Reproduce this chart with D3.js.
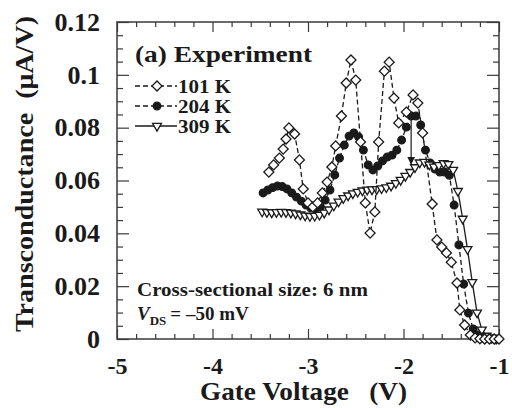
<!DOCTYPE html>
<html><head><meta charset="utf-8">
<script src="https://cdn.jsdelivr.net/npm/d3@7"></script>
<style>
html,body{margin:0;padding:0;background:#fff;}
svg{display:block;}
text{font-family:"Liberation Serif","Times New Roman",serif;font-weight:bold;fill:#1a1a1a;}
</style></head><body>
<svg id="c" width="512" height="408"></svg>
<script>
// ---- data ----
const v101 = [-3.41,-3.36,-3.30,-3.26,-3.23,-3.20,-3.14,-3.09,-3.05,-3.00,-2.95,-2.90,-2.85,-2.80,-2.75,-2.71,-2.65,-2.60,-2.55,-2.50,-2.45,-2.40,-2.35,-2.30,-2.26,-2.20,-2.15,-2.10,-2.05,-1.97,-1.90,-1.85,-1.80,-1.70,-1.65,-1.60,-1.55,-1.50,-1.44,-1.41,-1.36,-1.30,-1.25,-1.20,-1.15,-1.10,-1.05,-1.00];
const g101 = [0.0632,0.0659,0.0685,0.0719,0.0757,0.0799,0.0776,0.0678,0.0568,0.0515,0.0500,0.0515,0.0553,0.0594,0.0651,0.0731,0.0844,0.0969,0.1056,0.0980,0.0746,0.0515,0.0401,0.0481,0.0746,0.1014,0.1048,0.0912,0.0818,0.0859,0.0924,0.0893,0.0780,0.0511,0.0375,0.0348,0.0326,0.0291,0.0212,0.0110,0.0053,0.0015,0.0004,0.0001,0,0,0,0];

const v204 = [-3.47,-3.42,-3.37,-3.32,-3.27,-3.22,-3.17,-3.12,-3.07,-3.02,-2.97,-2.92,-2.87,-2.82,-2.77,-2.72,-2.67,-2.62,-2.57,-2.52,-2.47,-2.42,-2.37,-2.32,-2.27,-2.22,-2.17,-2.12,-2.07,-2.02,-1.97,-1.92,-1.87,-1.82,-1.77,-1.72,-1.67,-1.62,-1.57,-1.52,-1.47,-1.42,-1.37,-1.32,-1.27,-1.22,-1.17,-1.12,-1.07,-1.02];
const g204 = [0.0553,0.0564,0.0573,0.0579,0.0577,0.0568,0.0553,0.0537,0.0522,0.0507,0.0496,0.0492,0.0500,0.0526,0.0564,0.0621,0.0685,0.0734,0.0768,0.0780,0.0765,0.0715,0.0659,0.0640,0.0655,0.0674,0.0689,0.0696,0.0715,0.0753,0.0802,0.0844,0.0844,0.0810,0.0715,0.0666,0.0643,0.0632,0.0632,0.0620,0.0507,0.0356,0.0208,0.0098,0.0038,0.0015,0.0004,0.0002,0.0001,0];

const v309 = [-3.48,-3.43,-3.38,-3.33,-3.28,-3.23,-3.18,-3.13,-3.08,-3.03,-2.98,-2.93,-2.88,-2.83,-2.78,-2.73,-2.68,-2.63,-2.58,-2.53,-2.48,-2.43,-2.38,-2.33,-2.28,-2.23,-2.18,-2.13,-2.08,-2.03,-1.98,-1.93,-1.88,-1.83,-1.78,-1.73,-1.68,-1.63,-1.58,-1.53,-1.48,-1.43,-1.38,-1.33,-1.28,-1.23,-1.18,-1.13,-1.08,-1.03];
const g309 = [0.0482,0.0480,0.0479,0.0480,0.0481,0.0480,0.0478,0.0475,0.0471,0.0467,0.0465,0.0466,0.0470,0.0478,0.0490,0.0505,0.0520,0.0533,0.0543,0.0551,0.0557,0.0562,0.0565,0.0566,0.0567,0.0570,0.0574,0.0580,0.0590,0.0602,0.0617,0.0632,0.0650,0.0668,0.0670,0.0660,0.0652,0.0658,0.0665,0.0662,0.0640,0.0560,0.0455,0.0340,0.0215,0.0100,0.0035,0.0012,0.0004,0.0001];

const seriesNames = ["101 K","204 K","309 K"];
const xTicks = [-5,-4,-3,-2,-1];
const xTickLabels = ["-5","-4","-3","-2","-1"];
const yTicks = [0,0.02,0.04,0.06,0.08,0.1,0.12];
const yTickLabels = ["0","0.02","0.04","0.06","0.08","0.1","0.12"];
const arrowX = [-1.92,-1.92];
const arrowY = [0.085,0.066];

// ---- layout ----
const svg = d3.select("#c");
const L=117,R=499,T=22,B=339;
const x = d3.scaleLinear([-5,-1],[L,R]);
const y = d3.scaleLinear([0,0.12],[B,T]);
const ink="#1a1a1a", axisCol="#3a3a3a";

const xMinor = d3.range(-5,-1.0001,0.2).map(d=>+d.toFixed(2)).filter(d=>!xTicks.includes(Math.round(d*100)/100));
const yMinor = d3.range(0,0.12001,0.005).map(d=>+d.toFixed(3)).filter(d=>Math.abs(d/0.02-Math.round(d/0.02))>1e-6);

function styleAxis(g){
  g.selectAll("path.domain").remove();
  g.selectAll("line").attr("stroke",axisCol).attr("stroke-width",1.2);
}
// bottom
svg.append("g").attr("transform",`translate(0,${B})`)
  .call(d3.axisBottom(x).tickValues(xTicks).tickFormat((d,i)=>xTickLabels[i]).tickSize(-10).tickPadding(18))
  .call(styleAxis)
  .call(g=>g.selectAll("text").attr("font-size",24).attr("fill",ink).attr("font-family",null));
svg.append("g").attr("transform",`translate(0,${B})`)
  .call(d3.axisBottom(x).tickValues(xMinor).tickFormat("").tickSize(-5)).call(styleAxis);
// top
svg.append("g").attr("transform",`translate(0,${T})`)
  .call(d3.axisTop(x).tickValues(xTicks).tickFormat("").tickSize(-10)).call(styleAxis);
svg.append("g").attr("transform",`translate(0,${T})`)
  .call(d3.axisTop(x).tickValues(xMinor).tickFormat("").tickSize(-5)).call(styleAxis);
// left
svg.append("g").attr("transform",`translate(${L},0)`)
  .call(d3.axisLeft(y).tickValues(yTicks).tickFormat((d,i)=>yTickLabels[i]).tickSize(-12).tickPadding(17))
  .call(styleAxis)
  .call(g=>g.selectAll("text").attr("font-size",26).attr("fill",ink).attr("font-family",null));
svg.append("g").attr("transform",`translate(${L},0)`)
  .call(d3.axisLeft(y).tickValues(yMinor).tickFormat("").tickSize(-6)).call(styleAxis);
// right
svg.append("g").attr("transform",`translate(${R},0)`)
  .call(d3.axisRight(y).tickValues(yTicks).tickFormat("").tickSize(-12)).call(styleAxis);
svg.append("g").attr("transform",`translate(${R},0)`)
  .call(d3.axisRight(y).tickValues(yMinor).tickFormat("").tickSize(-6)).call(styleAxis);
// frame
svg.append("rect").attr("x",L).attr("y",T).attr("width",R-L).attr("height",B-T)
  .attr("fill","none").attr("stroke",axisCol).attr("stroke-width",1.5);

// ---- series ----
const line = d3.line().x(d=>x(d[0])).y(d=>y(d[1]));
const diamond = d3.symbol().type(d3.symbolSquare).size(50)();
const tri = d3.symbol().type(d3.symbolTriangle).size(34)();
const circ = d3.symbol().type(d3.symbolCircle).size(46)();

const s101 = v101.map((v,i)=>[v,g101[i]]);
const s204 = v204.map((v,i)=>[v,g204[i]]);
const s309 = v309.map((v,i)=>[v,g309[i]]);

function drawSeries(data, dash, path, fill, rot){
  svg.append("path").datum(data).attr("d",line).attr("fill","none")
    .attr("stroke",ink).attr("stroke-width",1.3).attr("stroke-dasharray",dash);
  svg.append("g").selectAll("path").data(data).join("path")
    .attr("d",path).attr("transform",d=>`translate(${x(d[0])},${y(d[1])}) rotate(${rot})`)
    .attr("fill",fill).attr("stroke",ink).attr("stroke-width",1.3);
}
drawSeries(s204,"5,3",circ,ink,0);
drawSeries(s309,null,tri,"#fff",180);
drawSeries(s101,"5,3",diamond,"#fff",45);

// arrow annotation
svg.append("defs").append("marker").attr("id","ah").attr("viewBox","0 0 10 10")
  .attr("refX",10).attr("refY",5).attr("markerWidth",8).attr("markerHeight",10)
  .attr("markerUnits","userSpaceOnUse").attr("orient","auto")
  .append("path").attr("d","M0,0 L10,5 L0,10 Z").attr("fill",ink);
svg.append("line").attr("x1",x(arrowX[0])).attr("y1",y(arrowY[0]))
  .attr("x2",x(arrowX[1])).attr("y2",y(arrowY[1]))
  .attr("stroke",ink).attr("stroke-width",1.2).attr("marker-end","url(#ah)");

// ---- legend ----
svg.append("text").attr("x",135).attr("y",62).attr("font-size",23)
  .attr("textLength",177).attr("lengthAdjust","spacingAndGlyphs").text("(a) Experiment");
const legRows=[{y:86,dash:"5,3",sym:diamond,fill:"#fff",rot:45},
               {y:106,dash:"5,3",sym:circ,fill:ink,rot:0},
               {y:126,dash:null,sym:tri,fill:"#fff",rot:180}];
legRows.forEach((r,i)=>{
  svg.append("line").attr("x1",135).attr("x2",177).attr("y1",r.y).attr("y2",r.y)
    .attr("stroke",ink).attr("stroke-width",1.3).attr("stroke-dasharray",r.dash);
  svg.append("path").attr("d",r.sym).attr("transform",`translate(157,${r.y}) rotate(${r.rot})`)
    .attr("fill",r.fill).attr("stroke",ink).attr("stroke-width",1.3);
  svg.append("text").attr("x",178).attr("y",r.y+6.5).attr("font-size",19)
    .attr("textLength",53).attr("lengthAdjust","spacingAndGlyphs").text(seriesNames[i]);
});

// ---- annotations ----
svg.append("text").attr("x",137).attr("y",296).attr("font-size",18)
  .attr("textLength",231).attr("lengthAdjust","spacingAndGlyphs").text("Cross-sectional size: 6 nm");
const vt = svg.append("text").attr("x",137).attr("y",320).attr("font-size",19);
vt.append("tspan").attr("font-style","italic").text("V");
vt.append("tspan").attr("font-size",13).attr("dy",5).text("DS");
vt.append("tspan").attr("dy",-5).attr("dx",4).text("= \u201350 mV");

// ---- axis titles ----
svg.append("text").attr("x",303.5).attr("y",400).attr("font-size",25).attr("text-anchor","middle")
  .attr("textLength",207).attr("lengthAdjust","spacingAndGlyphs").style("white-space","pre")
  .text("Gate Voltage   (V)");
svg.append("text").attr("transform","translate(33,174) rotate(-90)").attr("font-size",26)
  .attr("text-anchor","middle").attr("textLength",316).attr("lengthAdjust","spacingAndGlyphs")
  .style("white-space","pre").text("Transconductance  (\u03bcA/V)");
</script>
</body></html>
